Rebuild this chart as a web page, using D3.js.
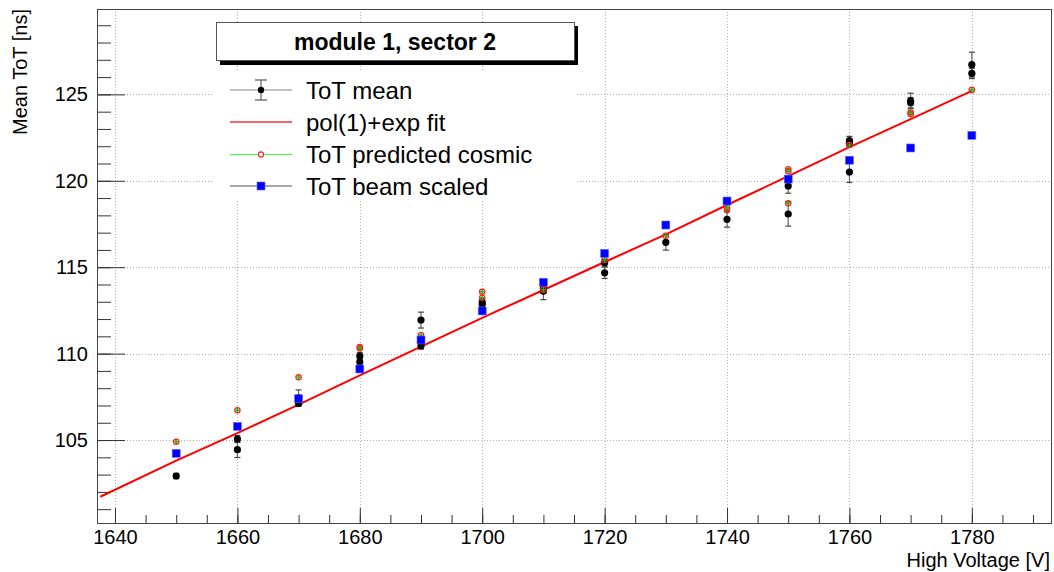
<!DOCTYPE html>
<html><head><meta charset="utf-8">
<script src="https://cdn.jsdelivr.net/npm/d3@7"></script>
<style>body{margin:0;background:#fff;} svg{display:block;font-family:"Liberation Sans",Arial,sans-serif;}</style>
</head><body>
<svg id="c" width="1054" height="572"></svg>
<script>
// ---- data ----
const meanHV  = [1650,1660,1660,1670,1670,1680,1680,1690,1690,1700,1700,1710,1710,1720,1720,1730,1740,1750,1750,1760,1760,1760,1770,1770,1780,1780];
const meanToT = [102.92,105.06,104.44,107.12,107.45,109.86,109.51,111.94,110.46,112.98,112.85,113.78,113.62,115.26,114.68,116.44,117.77,119.70,118.08,122.32,122.17,120.51,124.62,124.52,126.72,126.21];
const meanErr = [0.15,0.2,0.45,0.15,0.45,0.2,0.2,0.46,0.2,0.2,0.2,0.3,0.5,0.2,0.33,0.45,0.45,0.42,0.7,0.25,0.2,0.6,0.45,0.3,0.72,0.3];
const cosmicHV  = [1650,1660,1670,1680,1680,1690,1700,1700,1710,1720,1730,1740,1740,1750,1750,1750,1760,1770,1770,1780];
const cosmicToT = [104.9,106.72,108.63,110.38,110.3,111.08,113.58,113.23,113.7,115.42,116.82,118.31,118.45,120.67,120.55,118.7,122.07,123.86,123.95,125.26];
const beamHV  = [1650,1660,1670,1680,1690,1700,1710,1720,1730,1740,1750,1760,1770,1780];
const beamToT = [104.23,105.79,107.39,109.11,110.79,112.47,114.13,115.8,117.44,118.83,120.1,121.19,121.9,122.63];
const fitHV  = [1637.6,1650,1660,1670,1680,1690,1700,1710,1720,1730,1740,1750,1760,1770,1780];
const fitToT = [101.72,103.81,105.4,107.05,108.74,110.4,112.07,113.68,115.3,116.9,118.6,120.27,121.95,123.57,125.2];
const xTicks = [1640,1660,1680,1700,1720,1740,1760,1780];
const yTicks = [105,110,115,120,125];
const legendLabels = ["ToT mean","pol(1)+exp fit","ToT predicted cosmic","ToT beam scaled"];
const titleText = "module 1, sector 2";

// ---- layout ----
const L=97, R=1052, T=9, B=523;
const svg = d3.select("#c");
const x = d3.scaleLinear().domain([1637.06,1793.1]).range([L,R]);
const y = d3.scaleLinear().domain([100.2,129.94]).range([B,T]);

// grid
const grid = svg.append("g").attr("stroke","#b0b0b0").attr("stroke-width",1).attr("stroke-dasharray","1,2");
xTicks.forEach(t=>grid.append("line").attr("x1",Math.round(x(t))+0.5).attr("x2",Math.round(x(t))+0.5).attr("y1",T).attr("y2",B));
yTicks.forEach(t=>grid.append("line").attr("y1",Math.round(y(t))+0.5).attr("y2",Math.round(y(t))+0.5).attr("x1",L).attr("x2",R));

// axes
const xMinor = d3.range(1640,1795,5);
const yMinor = d3.range(101,130,1);
const axX = svg.append("g").attr("transform",`translate(0,${B})`)
  .call(d3.axisBottom(x).tickValues(xMinor).tickSize(-8).tickFormat(""));
axX.select(".domain").remove();
axX.selectAll("line").attr("stroke","#333");
const axX2 = svg.append("g").attr("transform",`translate(0,${B})`)
  .call(d3.axisBottom(x).tickValues(xTicks).tickSize(-15).tickFormat(d3.format("d")));
axX2.select(".domain").remove();
axX2.selectAll("line").attr("stroke","#333");
axX2.selectAll("text").attr("font-size",20).attr("fill","#000").attr("font-family","Liberation Sans, Arial, sans-serif").attr("y",21).attr("dy","0");

const axY = svg.append("g").attr("transform",`translate(${L},0)`)
  .call(d3.axisLeft(y).tickValues(yMinor).tickSize(-14).tickFormat(""));
axY.select(".domain").remove();
axY.selectAll("line").attr("stroke","#333");
const axY2 = svg.append("g").attr("transform",`translate(${L},0)`)
  .call(d3.axisLeft(y).tickValues(yTicks).tickSize(-28).tickFormat(d3.format("d")));
axY2.select(".domain").remove();
axY2.selectAll("line").attr("stroke","#333");
axY2.selectAll("text").attr("font-size",20).attr("fill","#000").attr("x",-9).attr("font-family","Liberation Sans, Arial, sans-serif");

// frame
svg.append("rect").attr("x",L+0.5).attr("y",T+0.5).attr("width",R-L-1).attr("height",B-T)
  .attr("fill","none").attr("stroke","#444").attr("stroke-width",1);

// axis titles
svg.append("text").attr("x",R-2).attr("y",567).attr("text-anchor","end").attr("font-size",20).text("High Voltage [V]");
svg.append("text").attr("transform",`translate(27,${T}) rotate(-90)`).attr("text-anchor","end").attr("font-size",20).text("Mean ToT [ns]");

// legend background
svg.append("rect").attr("x",213).attr("y",72).attr("width",362).attr("height",128).attr("fill","#fff");

// fit line
const line = d3.line().x(d=>x(d[0])).y(d=>y(d[1]));
svg.append("path").datum(fitHV.map((h,i)=>[h,fitToT[i]])).attr("d",line)
  .attr("fill","none").attr("stroke","#ff0000").attr("stroke-width",2);

// ToT mean points
const mg = svg.append("g");
meanHV.forEach((h,i)=>{
  const cx=x(h), v=meanToT[i], e=meanErr[i];
  mg.append("line").attr("x1",cx).attr("x2",cx).attr("y1",y(v+e)).attr("y2",y(v-e)).attr("stroke","#666").attr("stroke-width",1.2);
  [v+e,v-e].forEach(w=>mg.append("line").attr("x1",cx-3).attr("x2",cx+3).attr("y1",y(w)).attr("y2",y(w)).attr("stroke","#444").attr("stroke-width",1.2));
});
meanHV.forEach((h,i)=>mg.append("circle").attr("cx",x(h)).attr("cy",y(meanToT[i])).attr("r",3.6).attr("fill","#000"));

// predicted cosmic
const cg = svg.append("g");
cosmicHV.forEach((h,i)=>{
  const cx=x(h), cy=y(cosmicToT[i]);
  cg.append("line").attr("x1",cx).attr("x2",cx).attr("y1",cy-2.5).attr("y2",cy+2.5).attr("stroke","#00cc00").attr("stroke-width",1.5);
  cg.append("line").attr("x1",cx-2).attr("x2",cx+2).attr("y1",cy).attr("y2",cy).attr("stroke","#00cc00").attr("stroke-width",1.5);
  cg.append("circle").attr("cx",cx).attr("cy",cy).attr("r",2.7).attr("fill","none").attr("stroke","#ff2020").attr("stroke-width",1.2);
});

// beam scaled
const bg = svg.append("g");
beamHV.forEach((h,i)=>bg.append("rect").attr("x",x(h)-4).attr("y",y(beamToT[i])-4).attr("width",8).attr("height",8)
  .attr("fill","#0000ff").attr("stroke","#6a6aff").attr("stroke-width",0.6));

// title box
svg.append("rect").attr("x",220).attr("y",26).attr("width",358).attr("height",39).attr("fill","#000");
svg.append("rect").attr("x",216.5).attr("y",22.5).attr("width",358).attr("height",38).attr("fill","#fff").attr("stroke","#555").attr("stroke-width",1);
svg.append("text").attr("x",395).attr("y",50).attr("text-anchor","middle").attr("font-size",23).attr("font-weight","bold").text(titleText);

// legend entries
const rows=[90,122,154.5,186];
const lg = svg.append("g");
const lx1=230, lx2=292, lmx=261;
lg.append("line").attr("x1",lx1).attr("x2",lx2).attr("y1",rows[0]).attr("y2",rows[0]).attr("stroke","#888").attr("stroke-width",1.2);
lg.append("line").attr("x1",lmx).attr("x2",lmx).attr("y1",rows[0]-10).attr("y2",rows[0]+10).attr("stroke","#666").attr("stroke-width",1.2);
[rows[0]-10,rows[0]+10].forEach(w=>lg.append("line").attr("x1",lmx-6).attr("x2",lmx+6).attr("y1",w).attr("y2",w).attr("stroke","#555").attr("stroke-width",1.2));
lg.append("circle").attr("cx",lmx).attr("cy",rows[0]).attr("r",3.2).attr("fill","#000");
lg.append("line").attr("x1",lx1).attr("x2",lx2).attr("y1",rows[1]).attr("y2",rows[1]).attr("stroke","#ff3030").attr("stroke-width",1.6);
lg.append("line").attr("x1",lx1).attr("x2",lx2).attr("y1",rows[2]).attr("y2",rows[2]).attr("stroke","#33ff33").attr("stroke-width",1.2);
lg.append("circle").attr("cx",lmx).attr("cy",rows[2]).attr("r",2.6).attr("fill","#fff").attr("stroke","#ff2020").attr("stroke-width",1.1);
lg.append("line").attr("x1",lx1).attr("x2",lx2).attr("y1",rows[3]).attr("y2",rows[3]).attr("stroke","#555").attr("stroke-width",1.2);
lg.append("rect").attr("x",lmx-4).attr("y",rows[3]-4).attr("width",8).attr("height",8).attr("fill","#0000ff").attr("stroke","#6a6aff").attr("stroke-width",0.6);
legendLabels.forEach((t,i)=>lg.append("text").attr("x",306).attr("y",rows[i]+8.5).attr("font-size",24).attr("fill","#000").text(t));
</script>
</body></html>
